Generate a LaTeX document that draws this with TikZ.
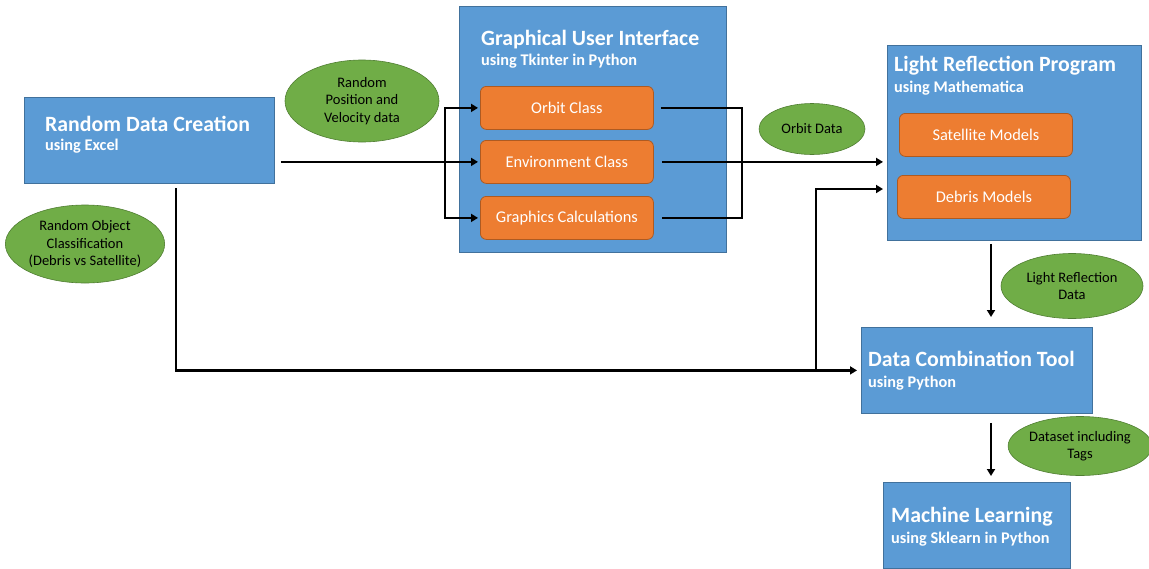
\documentclass[tikz,border=0pt]{standalone}
\usepackage{fontspec}
\setmainfont{Carlito}
\usetikzlibrary{shapes.geometric,arrows.meta}
\definecolor{boxblue}{HTML}{5B9BD5}
\definecolor{boxedge}{HTML}{41719C}
\definecolor{modorange}{HTML}{ED7D31}
\definecolor{modedge}{HTML}{AE5A21}
\definecolor{taggreen}{HTML}{70AD47}
\definecolor{tagedge}{HTML}{507E32}
\tikzset{
 stage/.style={draw=boxedge, line width=0.8pt, fill=boxblue, anchor=north west, inner sep=0pt},
 stagetitle/.style={anchor=base west, text=white, inner sep=0pt, font=\fontsize{21.8}{26}\selectfont\bfseries},
 stagetool/.style={anchor=base west, text=white, inner sep=0pt, font=\fontsize{16.3}{19}\selectfont\bfseries},
 module/.style={draw=modedge, line width=0.8pt, fill=modorange, rounded corners=6pt, anchor=north west,
   minimum width=173, minimum height=43, inner sep=0pt, text=white, font=\fontsize{16.4}{19}\selectfont},
 datatag/.style={ellipse, draw=tagedge, line width=0.6pt, fill=taggreen, inner sep=0pt, align=center,
   font=\fontsize{14.5}{17.5}\selectfont},
 flow/.style={line width=2.4pt, -{Triangle[length=7pt,width=8pt]}},
 link/.style={line width=2.4pt}
}
\begin{document}
\begin{tikzpicture}[x=1pt,y=-1pt]
\useasboundingbox (0,0) rectangle (1149,568);
% stages
\node[stage, minimum width=250, minimum height=86] (rdc) at (24,97) {};
\node[stagetitle] (rdcT) at (45,131.5) {Random Data Creation};
\node[stagetool] (rdcU) at (45,150) {using Excel};

\node[stage, minimum width=267, minimum height=246] (gui) at (459,6) {};
\node[stagetitle] (guiT) at (481,45) {Graphical User Interface};
\node[stagetool] (guiU) at (481,65) {using Tkinter in Python};
\node[module] (orbit) at (480,86) {Orbit Class};
\node[module] (env) at (480,140) {Environment Class};
\node[module] (gfx) at (480,196) {Graphics Calculations};

\node[stage, minimum width=254, minimum height=195] (lrp) at (887,45) {};
\node[stagetitle] (lrpT) at (894,71) {Light Reflection Program};
\node[stagetool] (lrpU) at (894,92) {using Mathematica};
\node[module] (sat) at (899,113) {Satellite Models};
\node[module] (deb) at (897,175) {Debris Models};

\node[stage, minimum width=231, minimum height=86] (dct) at (861,327) {};
\node[stagetitle] (dctT) at (868,366) {Data Combination Tool};
\node[stagetool] (dctU) at (868,387) {using Python};

\node[stage, minimum width=187, minimum height=86] (ml) at (883,482) {};
\node[stagetitle] (mlT) at (891,522) {Machine Learning};
\node[stagetool] (mlU) at (891,543) {using Sklearn in Python};

% data passed along
\node[datatag, minimum width=154, minimum height=82] (posvel) at (362,101) {Random\\Position and\\Velocity data};
\node[datatag, minimum width=154, minimum height=78] (objcls) at (85,244) {Random Object\\Classification\\(Debris vs Satellite)};
\node[datatag, minimum width=106, minimum height=51] (orbdat) at (812,129) {Orbit Data};
\node[datatag, minimum width=142, minimum height=65] (lrdat) at (1072,286) {Light Reflection\\Data};
\node[datatag, minimum width=138, minimum height=59] (dsdat) at (1080,446) {Dataset including\\Tags};

% connectors
\coordinate (split) at (445,161.5);
\coordinate (join) at (742,161.5);
\coordinate (drop) at (176,188);
\coordinate (tap) at (816,370);
\coordinate (lrpin) at (887,189);
\draw[flow, shorten <=6pt, shorten >=2pt] (rdc.east |- env) -- (env);
\draw[flow, shorten >=2pt] (split) |- (orbit);
\draw[flow, shorten >=2pt] (split) |- (gfx);
\draw[link] ([xshift=7pt]orbit.east) -| (join |- gfx) -- ([xshift=8pt]gfx.east);
\draw[flow, shorten <=8pt, shorten >=4pt] (env) -- (env -| lrp.west);
\draw[flow, shorten >=4pt] (drop) |- (dct);
\draw[flow, shorten >=4pt] (tap) |- (lrpin);
\draw[flow, shorten <=3pt, shorten >=10pt] (lrp.south -| 991,0) -- (dct.north -| 991,0);
\draw[flow, shorten <=9pt, shorten >=6pt] (dct.south -| 991,0) -- (ml.north -| 991,0);
\end{tikzpicture}
\end{document}
